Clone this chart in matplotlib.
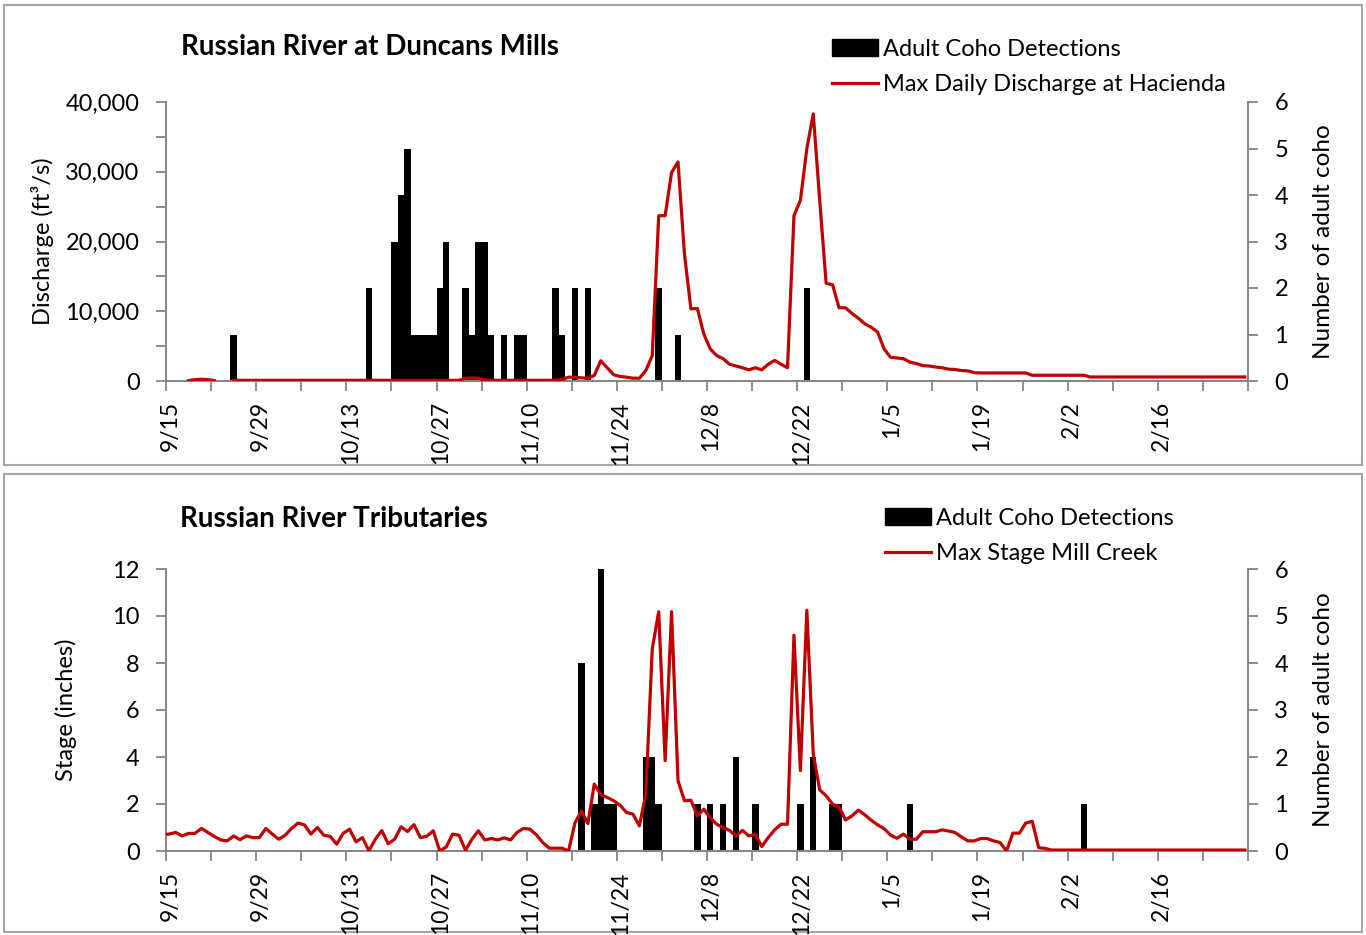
import numpy as np
import matplotlib
matplotlib.use("Agg")
import matplotlib.pyplot as plt
from matplotlib.patches import Rectangle
from matplotlib.transforms import ScaledTranslation

plt.rcParams['font.family'] = ['Lato', 'DejaVu Sans']

# ---------------- data (x = days after 9/15) ----------------
tick_labels = ["9/15", "9/29", "10/13", "10/27", "11/10", "11/24", "12/8",
               "12/22", "1/5", "1/19", "2/2", "2/16"]

# Top panel: adult coho detections at Duncans Mills
top_coho_days = [10, 31, 35, 36, 37, 38, 39, 40, 41, 42, 43, 46, 47, 48, 49, 50,
                 52, 54, 55, 60, 61, 63, 65, 76, 79, 99]
top_coho_counts = [1, 2, 3, 4, 5, 1, 1, 1, 1, 2, 3, 2, 1, 3, 3, 1,
                   1, 1, 1, 2, 1, 2, 2, 2, 1, 2]

# Max daily discharge at Hacienda (cfs), day 0 .. 167
discharge_cfs = [
    np.nan, np.nan, np.nan, 50, 200, 250, 200, 50, np.nan, np.nan,
    100, 100, 100, 100, 100, 100, 100, 100, 100, 100,
    100, 100, 100, 100, 100, 100, 100, 100, 100, 100,
    100, 100, 100, 100, 100, 100, 100, 100, 100, 100,
    100, 100, 100, 100, 100, 100, 400, 420, 400, 150,
    100, 100, 100, 100, 100, 100, 100, 100, 100, 100,
    120, 200, 550, 550, 450, 400, 800, 2900, 1900, 900,
    650, 550, 400, 400, 1500, 3650, 23700, 23700, 29900, 31400,
    18200, 10350, 10400, 6750, 4600, 3650, 3200, 2400, 2150, 1900,
    1600, 1900, 1600, 2400, 2950, 2400, 1900, 23700, 25900, 33300,
    38300, 25900, 14000, 13800, 10500, 10500, 9700, 9000, 8200, 7700,
    7000, 4600, 3400, 3300, 3200, 2700, 2500, 2200, 2150, 2000,
    1900, 1700, 1650, 1500, 1450, 1200, 1150, 1150, 1150, 1150,
    1150, 1150, 1150, 1150, 820, 820, 820, 820, 820, 820,
    820, 820, 820, 575, 575, 575, 575, 575, 575, 575,
    575, 575, 575, 575, 575, 575, 575, 575, 575, 575,
    575, 575, 575, 575, 575, 575, 575, 575,
]

# Bottom panel: adult coho detections in tributaries
trib_coho_days = [64, 66, 67, 68, 69, 74, 75, 76, 82, 84, 86, 88, 91, 98, 100,
                  103, 104, 115, 142]
trib_coho_counts = [4, 1, 6, 1, 1, 2, 2, 1, 1, 1, 1, 2, 1, 1, 2,
                    1, 1, 1, 1]

# Max stage at Mill Creek (inches), day -1 .. 167
stage_in = [
    0.70,
    0.72, 0.79, 0.64, 0.75, 0.75, 0.96, 0.79, 0.62, 0.47, 0.43,
    0.64, 0.48, 0.64, 0.57, 0.57, 0.96, 0.72, 0.50, 0.67, 0.96,
    1.19, 1.11, 0.72, 1.00, 0.67, 0.62, 0.29, 0.75, 0.93, 0.39,
    0.57, 0.00, 0.50, 0.87, 0.31, 0.50, 1.03, 0.83, 1.12, 0.57,
    0.63, 0.86, 0.00, 0.17, 0.72, 0.67, 0.03, 0.50, 0.86, 0.47,
    0.53, 0.47, 0.56, 0.47, 0.79, 0.96, 0.93, 0.69, 0.36, 0.12,
    0.12, 0.12, 0.00, 1.20, 1.70, 1.17, 2.85, 2.40, 2.28, 2.14,
    1.95, 1.64, 1.57, 1.07, 2.42, 8.60, 10.18, 3.84, 10.18, 2.99,
    2.14, 2.16, 1.49, 1.78, 1.42, 1.14, 1.00, 0.88, 0.64, 0.88,
    0.64, 0.71, 0.19, 0.57, 0.90, 1.14, 1.14, 9.18, 3.42, 10.25,
    4.13, 2.60, 2.35, 1.99, 1.88, 1.32, 1.49, 1.74, 1.54, 1.31,
    1.11, 0.95, 0.68, 0.54, 0.72, 0.50, 0.50, 0.82, 0.82, 0.82,
    0.90, 0.85, 0.79, 0.60, 0.43, 0.43, 0.53, 0.53, 0.43, 0.36,
    0.00, 0.76, 0.76, 1.19, 1.26, 0.14, 0.11, 0.04, 0.04, 0.04,
    0.04, 0.04, 0.04, 0.04, 0.04, 0.04, 0.04, 0.04, 0.04, 0.04,
    0.04, 0.04, 0.04, 0.04, 0.04, 0.04, 0.04, 0.04, 0.04, 0.04,
    0.04, 0.04, 0.04, 0.04, 0.04, 0.04, 0.04, 0.04,
]
stage_start_day = -1

# ---------------- styling ----------------
RED = '#C00000'
AXC = '#868686'
FS = 17
XFS = 16.5
W, H = 1366, 935
fig = plt.figure(figsize=(W / 100, H / 100), dpi=100)


def fx(px):
    return px / W


def fy(py):
    return 1 - py / H


# panel frames
for (y0, y1) in [(5, 465), (474, 932)]:
    fig.patches.append(Rectangle((fx(4), fy(y1)), fx(1362) - fx(4), fy(y0) - fy(y1),
                                 transform=fig.transFigure, fill=False,
                                 edgecolor='#A6A6A6', linewidth=1.5, zorder=0))

xtick_pos = np.arange(0, 169, 7)
xtick_text = [tick_labels[i // 2] if (i % 2 == 0 and i // 2 < len(tick_labels)) else ""
              for i in range(len(xtick_pos))]


def style_axes(ax, ax2):
    for a in (ax, ax2):
        a.spines['top'].set_visible(False)
        for s in ('left', 'right', 'bottom'):
            a.spines[s].set_color(AXC)
            a.spines[s].set_linewidth(1.3)
        a.tick_params(colors=AXC, labelcolor='black', labelsize=FS, width=1.3,
                      length=7, pad=12)
    ax.set_xlim(0, 168)
    ax.set_xticks(xtick_pos)
    ax.set_xticklabels(xtick_text, rotation=90)
    ax.tick_params(axis='x', pad=7.5, labelsize=XFS)
    shift = ScaledTranslation(4 / 100, 0, fig.dpi_scale_trans)
    for lab in ax.get_xticklabels():
        lab.set_transform(lab.get_transform() + shift)


def draw_panel(ax_rect, line_x, line_y, line_ylim, line_ticks, line_minor, ylabel,
               ylabelpad, fmt, bar_days, bar_counts, title, line_label, leg_xy):
    ax = fig.add_axes(ax_rect)
    ax2 = ax.twinx()
    ax2.bar(np.array(bar_days), bar_counts, width=1.0, align='edge', color='black',
            linewidth=0, zorder=1)
    ax2.set_ylim(0, 6)
    ax2.set_yticks(range(0, 7))
    ax2.set_ylabel('Number of adult coho', fontsize=FS + 0.5, labelpad=18)
    ax.set_zorder(ax2.get_zorder() + 1)
    ax.patch.set_visible(False)
    ln, = ax.plot(line_x, line_y, color=RED, linewidth=2.3, zorder=3,
                  solid_joinstyle='round')
    ax.set_ylim(*line_ylim)
    ax.set_yticks(line_ticks)
    if line_minor is not None:
        ax.set_yticks(line_minor, minor=True)
        ax.tick_params(axis='y', which='minor', length=7, width=1.3, colors=AXC)
    ax.set_yticklabels([fmt(v) for v in line_ticks])
    ax.set_ylabel(ylabel, fontsize=FS, labelpad=ylabelpad)
    style_axes(ax, ax2)
    fig.text(fx(title[1]), fy(title[2]), title[0], fontsize=20, fontweight='bold',
             ha='left', va='center')
    bar_handle = Rectangle((0, 0), 1, 1, color='black')
    fig.legend([bar_handle, ln], ['Adult Coho Detections', line_label],
               loc='upper left', bbox_to_anchor=(fx(leg_xy[0]), fy(leg_xy[1])),
               bbox_transform=fig.transFigure, frameon=False, fontsize=FS,
               handlelength=1.95, handleheight=0.7, handletextpad=0.22,
               labelspacing=0.6, borderpad=0, borderaxespad=0)
    return ax, ax2


top_x = np.arange(len(discharge_cfs)) + 0.5
draw_panel([fx(166), fy(381), fx(1248) - fx(166), fy(102) - fy(381)],
           top_x, discharge_cfs, (0, 40000), list(range(0, 40001, 10000)),
           list(range(5000, 40000, 10000)), 'Discharge (ft\u00b3/s)', 8,
           lambda v: f"{v:,.0f}", top_coho_days, top_coho_counts,
           ("Russian River at Duncans Mills", 181, 47),
           'Max Daily Discharge at Hacienda', (832, 39))

bot_x = np.arange(len(stage_in)) + stage_start_day + 0.5
draw_panel([fx(166), fy(851), fx(1248) - fx(166), fy(569) - fy(851)],
           bot_x, stage_in, (0, 12), list(range(0, 13, 2)), None, 'Stage (inches)', 25,
           lambda v: f"{v:.0f}", trib_coho_days, trib_coho_counts,
           ("Russian River Tributaries", 180, 519),
           'Max Stage Mill Creek', (885, 508))

fig.savefig('out.png', dpi=100)
